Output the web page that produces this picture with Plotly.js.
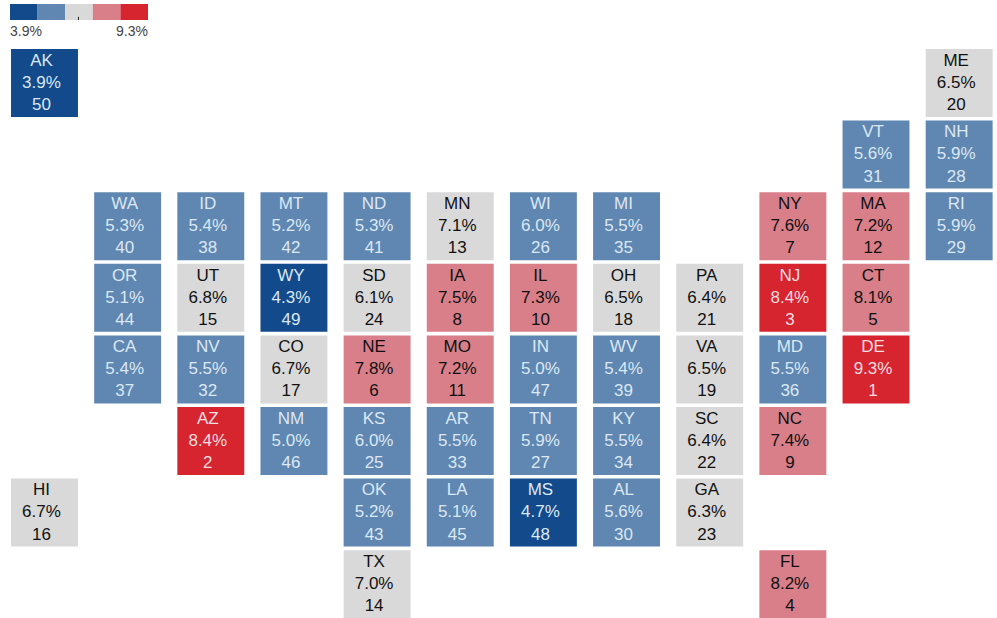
<!DOCTYPE html>
<html><head><meta charset="utf-8">
<script src="https://cdn.plot.ly/plotly-3.0.1.min.js"></script>
<style>html,body{margin:0;padding:0;background:#fff}#c{width:997px;height:618px}</style>
</head><body><div id="c"></div>
<script>
const states = ["AK","ME","VT","NH","WA","ID","MT","ND","MN","WI","MI","NY","MA","RI","OR","UT","WY","SD","IA","IL","OH","PA","NJ","CT","CA","NV","CO","NE","MO","IN","WV","VA","MD","DE","AZ","NM","KS","AR","TN","KY","SC","NC","HI","OK","LA","MS","AL","GA","TX","FL"];
const cols   = [0,11,10,11,1,2,3,4,5,6,7,9,10,11,1,2,3,4,5,6,7,8,9,10,1,2,3,4,5,6,7,8,9,10,2,3,4,5,6,7,8,9,0,4,5,6,7,8,4,9];
const rows   = [0,0,1,1,2,2,2,2,2,2,2,2,2,2,3,3,3,3,3,3,3,3,3,3,4,4,4,4,4,4,4,4,4,4,5,5,5,5,5,5,5,5,6,6,6,6,6,6,7,7];
const values = [3.9,6.5,5.6,5.9,5.3,5.4,5.2,5.3,7.1,6.0,5.5,7.6,7.2,5.9,5.1,6.8,4.3,6.1,7.5,7.3,6.5,6.4,8.4,8.1,5.4,5.5,6.7,7.8,7.2,5.0,5.4,6.5,5.5,9.3,8.4,5.0,6.0,5.5,5.9,5.5,6.4,7.4,6.7,5.2,5.1,4.7,5.6,6.3,7.0,8.2];
const ranks  = [50,20,31,28,40,38,42,41,13,26,35,7,12,29,44,15,49,24,8,10,18,21,3,5,37,32,17,6,11,47,39,19,36,1,2,46,25,33,27,34,22,9,16,43,45,48,30,23,14,4];
const binColors = ["#124a8b","#5f87b1","#d9d9d9","#d87f8a","#d6252f"];
const binText   = ["#dce8f4","#dce8f4","#111111","#111111","#f5dfe0"];
const binEdges  = [5.0,6.1,7.2,8.4];
const legendBins = [0,1,2,3,4];
const legendLabels = ["3.9%","9.3%"];

const binOf = v => binEdges.filter(e => v >= e).length;
const bins = values.map(binOf);
const fs = 17;

const tiles = {type:"bar", x:cols, y:values.map(()=>0.95), base:rows.map(r=>r-0.475), width:0.805,
  marker:{color:bins.map(b=>binColors[b]), line:{width:0}}, hoverinfo:"skip", showlegend:false};
const labels = {type:"scatter", mode:"text", x:cols.map(c=>c-0.036), y:rows.map(r=>r+0.008),
  text:states.map((s,i)=>s+"<br>"+values[i].toFixed(1)+"%<br>"+ranks[i]),
  textposition:"middle center",
  textfont:{family:"Liberation Sans, Arial, sans-serif", size:fs, color:bins.map(b=>binText[b])},
  hoverinfo:"skip", showlegend:false, cliponaxis:false};
const legendBar = {type:"bar", x:legendBins, y:legendBins.map(()=>1), width:1, xaxis:"x2", yaxis:"y2",
  marker:{color:legendBins.map(b=>binColors[b]), line:{width:0}}, hoverinfo:"skip", showlegend:false};

const W=997,H=618;
const layout = {
  width:W, height:H, margin:{l:0,r:0,t:0,b:0}, paper_bgcolor:"#fff", plot_bgcolor:"#fff", showlegend:false, barmode:"overlay",
  xaxis:{range:[-0.535,11.455], visible:false, fixedrange:true},
  yaxis:{range:[7.472,-1.159], visible:false, fixedrange:true},
  xaxis2:{domain:[10/W,148/W], range:[-0.5,4.5], visible:false, anchor:"y2", fixedrange:true},
  yaxis2:{domain:[1-20/H,1-4/H], range:[0,1], visible:false, anchor:"x2", fixedrange:true},
  shapes:[{type:"line", xref:"x2", yref:"y2", x0:1.98, x1:1.98, y0:0, y1:0.2, line:{color:"#222",width:1}}],
  annotations:[
    {xref:"paper",yref:"paper",x:8/W,y:1-31/H,xanchor:"left",yanchor:"middle",showarrow:false,text:legendLabels[0],font:{family:"Liberation Sans, Arial, sans-serif",size:14,color:"#444"}},
    {xref:"paper",yref:"paper",x:150/W,y:1-31/H,xanchor:"right",yanchor:"middle",showarrow:false,text:legendLabels[1],font:{family:"Liberation Sans, Arial, sans-serif",size:14,color:"#444"}}
  ]
};
Plotly.newPlot("c",[tiles,legendBar,labels],layout,{displayModeBar:false,staticPlot:true});
</script></body></html>
